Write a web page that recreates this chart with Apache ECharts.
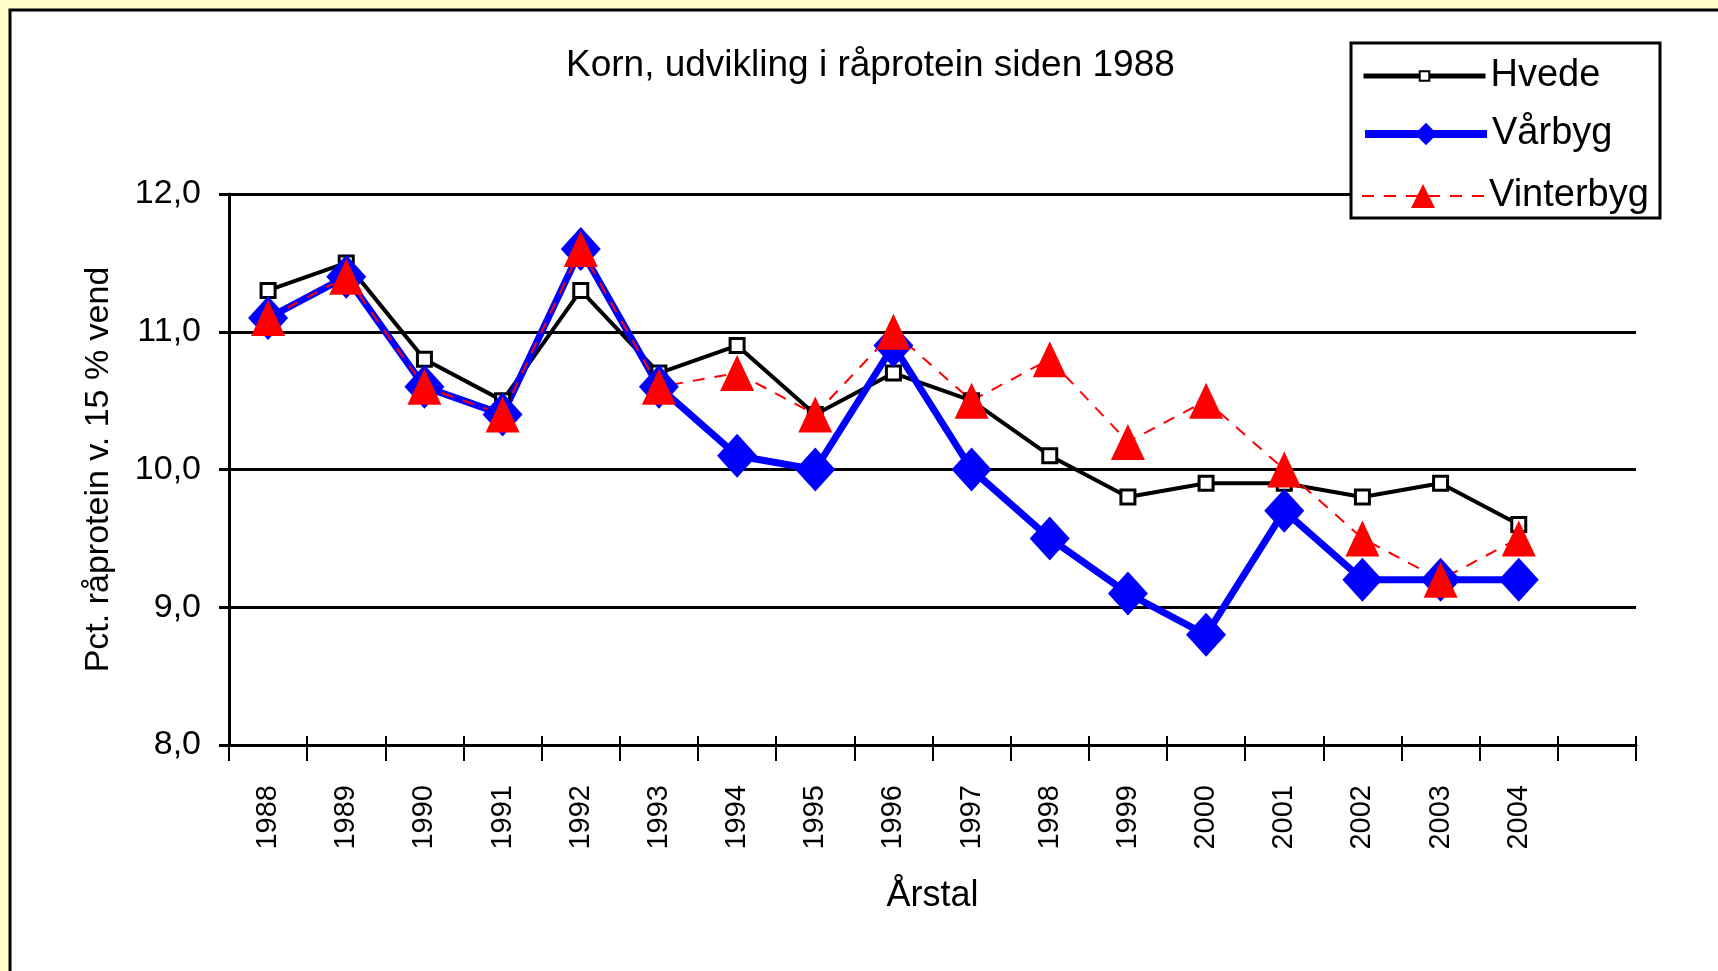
<!DOCTYPE html>
<html>
<head>
<meta charset="utf-8">
<script src="https://cdn.jsdelivr.net/npm/echarts@6/dist/echarts.min.js"></script>
<style>
  html, body { margin: 0; padding: 0; background: #ffffcc; }
  #chart { width: 1718px; height: 971px; }
</style>
</head>
<body>
<div id="chart"></div>
<script>
const years = ["1988", "1989", "1990", "1991", "1992", "1993", "1994", "1995", "1996",
  "1997", "1998", "1999", "2000", "2001", "2002", "2003", "2004", ""];
const hvede = [11.3, 11.5, 10.8, 10.5, 11.3, 10.7, 10.9, 10.4, 10.7, 10.5, 10.1, 9.8, 9.9, 9.9, 9.8, 9.9, 9.6];
const vaarbyg = [11.1, 11.4, 10.6, 10.4, 11.6, 10.6, 10.1, 10.0, 10.9, 10.0, 9.5, 9.1, 8.8, 9.7, 9.2, 9.2, 9.2];
const vinterbyg = [11.1, 11.4, 10.6, 10.4, 11.6, 10.6, 10.7, 10.4, 11.0, 10.5, 10.8, 10.2, 10.5, 10.0, 9.5, 9.2, 9.5];
const yTicks = [8, 9, 10, 11, 12];

const font = "Liberation Sans";
const chart = echarts.init(document.getElementById("chart"));

const legendText = { fontFamily: font, fontSize: 38, color: "#000" };

const option = {
  animation: false,
  backgroundColor: "#ffffcc",
  graphic: [
    {
      type: "rect",
      z: -10,
      shape: { x: 10, y: 10, width: 1800, height: 1100 },
      style: { fill: "#fff", stroke: "#000", lineWidth: 3 },
    },
    {
      type: "rect",
      z: 3,
      shape: { x: 1351, y: 43, width: 309, height: 175 },
      style: { fill: "#fff", stroke: "#000", lineWidth: 3 },
    },
  ],
  title: {
    text: "Korn, udvikling i råprotein siden 1988",
    left: 566,
    top: 47,
    padding: 0,
    textStyle: { fontFamily: font, fontSize: 37, fontWeight: "normal", color: "#000" },
  },
  legend: [
    {
      data: ["Hvede"], left: 1361, top: 57, padding: 0,
      itemWidth: 122, itemHeight: 12, textStyle: legendText,
      lineStyle: { width: 5 },
    },
    {
      data: ["Vårbyg"], left: 1361, top: 115, padding: 0,
      itemWidth: 122, itemHeight: 28, textStyle: legendText,
      lineStyle: { width: 8 },
    },
    {
      data: ["Vinterbyg"], left: 1361, top: 177, padding: 0,
      itemWidth: 122, itemHeight: 30, textStyle: legendText,
      lineStyle: { width: 2 },
    },
  ],
  grid: { left: 229, right: 82, top: 194, bottom: 226 },
  xAxis: [
    {
      type: "category",
      data: years,
      position: "bottom",
      boundaryGap: true,
      name: "Årstal",
      nameLocation: "middle",
      nameGap: 133,
      nameTextStyle: { fontFamily: font, fontSize: 36, color: "#000" },
      axisLine: { lineStyle: { color: "#000", width: 3 } },
      axisTick: { show: true, interval: 0, length: 16, lineStyle: { color: "#000", width: 2 } },
      axisLabel: {
        interval: 0, rotate: 90, margin: 40,
        fontFamily: font, fontSize: 29, color: "#000",
      },
      splitLine: { show: false },
    },
    {
      type: "category",
      data: years,
      position: "bottom",
      boundaryGap: true,
      axisLine: { show: false },
      axisTick: { show: true, inside: true, interval: 0, length: 9, lineStyle: { color: "#000", width: 2 } },
      axisLabel: { show: false },
      splitLine: { show: false },
    },
  ],
  yAxis: {
    type: "value",
    min: yTicks[0],
    max: yTicks[yTicks.length - 1],
    interval: 1,
    name: "Pct. råprotein v. 15 % vend",
    nameLocation: "middle",
    nameRotate: 90,
    nameGap: 113,
    nameTextStyle: { fontFamily: font, fontSize: 34, color: "#000" },
    axisLine: { show: true, lineStyle: { color: "#000", width: 3 } },
    axisTick: { show: true, length: 10, lineStyle: { color: "#000", width: 3 } },
    axisLabel: {
      margin: 28, fontFamily: font, fontSize: 34, color: "#000",
      formatter: (v) => v.toFixed(1).replace(".", ","),
    },
    splitLine: { show: true, lineStyle: { color: "#000", width: 3 } },
  },
  series: [
    {
      name: "Hvede",
      type: "line",
      data: hvede,
      symbol: "rect",
      symbolSize: 14,
      lineStyle: { color: "#000", width: 4 },
      itemStyle: { color: "#fff", borderColor: "#000", borderWidth: 3 },
    },
    {
      name: "Vårbyg",
      type: "line",
      data: vaarbyg,
      symbol: "diamond",
      symbolSize: [40, 44],
      lineStyle: { color: "#0000ff", width: 7 },
      itemStyle: { color: "#0000ff" },
    },
    {
      name: "Vinterbyg",
      type: "line",
      data: vinterbyg,
      symbol: "triangle",
      symbolSize: [34, 36],
      lineStyle: { color: "#ff0000", width: 2, type: [12, 10] },
      itemStyle: { color: "#ff0000" },
    },
  ],
};

chart.setOption(option);
</script>
</body>
</html>
